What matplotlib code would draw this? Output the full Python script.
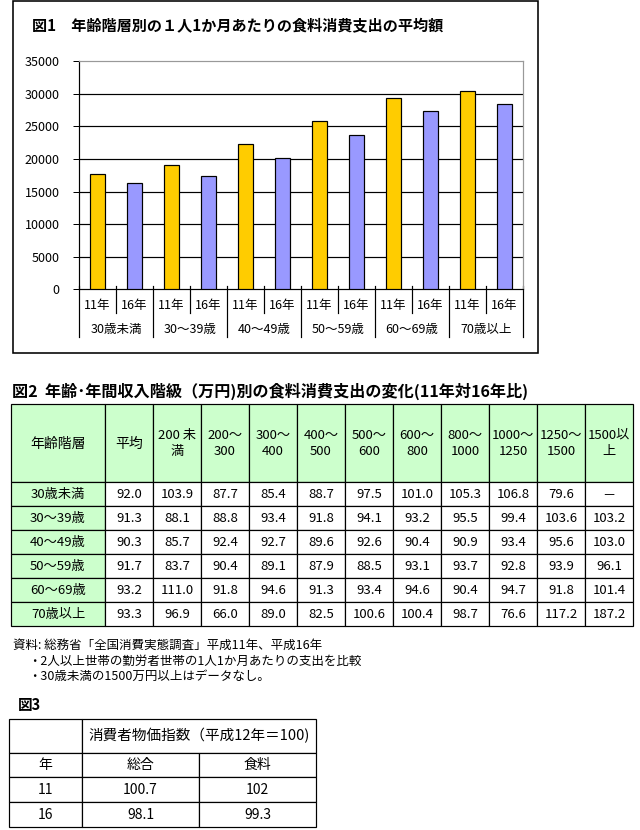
import matplotlib
matplotlib.use("Agg")
import matplotlib.pyplot as plt
from matplotlib.patches import Rectangle
import numpy as np

plt.rcParams['font.family'] = ['Noto Sans CJK JP', 'DejaVu Sans']

# ---------------- data ----------------
ages = ['30歳未満', '30～39歳', '40～49歳', '50～59歳', '60～69歳', '70歳以上']
years = ['11年', '16年']
spend_11 = [17700, 19100, 22300, 25800, 29300, 30400]
spend_16 = [16300, 17400, 20100, 23600, 27300, 28400]
y_ticks = [0, 5000, 10000, 15000, 20000, 25000, 30000, 35000]

title1 = '図1　年齢階層別の１人1か月あたりの食料消費支出の平均額'
title2 = '図2  年齢･年間収入階級（万円)別の食料消費支出の変化(11年対16年比)'

t2_header = ['年齢階層', '平均', '200 未\n満', '200～\n300', '300～\n400', '400～\n500',
             '500～\n600', '600～\n800', '800～\n1000', '1000～\n1250', '1250～\n1500', '1500以\n上']
t2_ages = ['30歳未満', '30～39歳', '40～49歳', '50～59歳', '60～69歳', '70歳以上']
t2_avg = [92.0, 91.3, 90.3, 91.7, 93.2, 93.3]
t2_ratio = [
    [103.9, 87.7, 85.4, 88.7, 97.5, 101.0, 105.3, 106.8, 79.6, None],
    [88.1, 88.8, 93.4, 91.8, 94.1, 93.2, 95.5, 99.4, 103.6, 103.2],
    [85.7, 92.4, 92.7, 89.6, 92.6, 90.4, 90.9, 93.4, 95.6, 103.0],
    [83.7, 90.4, 89.1, 87.9, 88.5, 93.1, 93.7, 92.8, 93.9, 96.1],
    [111.0, 91.8, 94.6, 91.3, 93.4, 94.6, 90.4, 94.7, 91.8, 101.4],
    [96.9, 66.0, 89.0, 82.5, 100.6, 100.4, 98.7, 76.6, 117.2, 187.2],
]

notes = ['資料: 総務省「全国消費実態調査」平成11年、平成16年',
         '・2人以上世帯の勤労者世帯の1人1か月あたりの支出を比較',
         '・30歳未満の1500万円以上はデータなし。']

title3 = '図3'
t3_top = '消費者物価指数（平成12年＝100)'
t3_cols = ['年', '総合', '食料']
cpi_years = ['11', '16']
cpi_total = ['100.7', '98.1']
cpi_food = ['102', '99.3']

# ---------------- figure ----------------
W, H = 640, 830
fig = plt.figure(figsize=(W / 100, H / 100), dpi=100)
lay = fig.add_axes([0, 0, 1, 1])
lay.set_xlim(0, W)
lay.set_ylim(H, 0)
lay.axis('off')

px = 0.72  # 1 pixel in points
FS = 9
TFS = 9.5

# chart frame
lay.add_patch(Rectangle((12.5, 1), 525, 352, fill=False, ec='black', lw=1.6 * px))
lay.text(32, 25, title1, fontsize=10.9, fontweight='bold', ha='left', va='center')

# ---------------- bar chart ----------------
L, R, T, B = 79, 523, 61, 289.5
ax = fig.add_axes([L / W, 1 - B / H, (R - L) / W, (B - T) / H])
n = len(ages)
x11 = np.arange(n) * 2
x16 = x11 + 1
ax.bar(x11, spend_11, width=0.38, color='#FFCC00', edgecolor='black', linewidth=1.2 * px, zorder=3)
ax.bar(x16, spend_16, width=0.38, color='#9999FF', edgecolor='black', linewidth=1.2 * px, zorder=3)
ax.set_xlim(-0.5, 2 * n - 0.5)
ax.set_ylim(0, 35000)
ax.set_yticks(y_ticks)
ax.set_yticklabels([str(v) for v in y_ticks], fontsize=FS)
ax.tick_params(axis='y', length=4, width=px, pad=10, direction='out')
ax.set_xticks([])
for v in y_ticks[1:-1]:
    ax.axhline(v, color='black', lw=1.2 * px, zorder=1)
for s in ['top', 'right']:
    ax.spines[s].set_color('#999999')
    ax.spines[s].set_linewidth(1.2 * px)
for s in ['left', 'bottom']:
    ax.spines[s].set_color('black')
    ax.spines[s].set_linewidth(1.2 * px)

# two level category labels
tr = ax.get_xaxis_transform()
ph = B - T
for i in range(n):
    for j, yl in enumerate(years):
        ax.text(2 * i + j, -16.5 / ph, yl, transform=tr, ha='center', va='center', fontsize=FS)
    ax.text(2 * i + 0.5, -40.5 / ph, ages[i], transform=tr, ha='center', va='center', fontsize=FS)
for k in range(2 * n + 1):
    xk = k - 0.5
    depth = 47.5 if k % 2 == 0 else 24
    ax.plot([xk, xk], [3 / ph, -depth / ph], transform=tr, color='black', lw=1.2 * px, clip_on=False)

# ---------------- table 2 ----------------
lay.text(12, 391, title2, fontsize=11.6, fontweight='bold', ha='left', va='center')
t2_x0, t2_y0 = 11, 404
col_w = [94] + [48] * 11
edges = np.concatenate([[t2_x0], t2_x0 + np.cumsum(col_w)])
row_h = [78] + [24] * 6
yedges = np.concatenate([[t2_y0], t2_y0 + np.cumsum(row_h)])
green = '#CCFFCC'
for r in range(len(row_h)):
    for c in range(len(col_w)):
        x0, x1 = edges[c], edges[c + 1]
        y0, y1 = yedges[r], yedges[r + 1]
        fc = green if (r == 0 or c == 0) else 'white'
        lay.add_patch(Rectangle((x0, y0), x1 - x0, y1 - y0, fc=fc, ec='black', lw=1.2 * px))
        if r == 0:
            txt = t2_header[c]
        elif c == 0:
            txt = t2_ages[r - 1]
        elif c == 1:
            txt = f'{t2_avg[r - 1]:.1f}'
        else:
            v = t2_ratio[r - 1][c - 2]
            txt = '－' if v is None else f'{v:.1f}'
        fs = TFS + 0.5 if (r == 0 and c < 2) else TFS
        lay.text((x0 + x1) / 2, (y0 + y1) / 2 + 0.5, txt, fontsize=fs, ha='center', va='center',
                 linespacing=1.3)

# ---------------- notes ----------------
lay.text(13, 645, notes[0], fontsize=FS, ha='left', va='center')
lay.text(28, 661, notes[1], fontsize=FS, ha='left', va='center')
lay.text(28, 676, notes[2], fontsize=FS, ha='left', va='center')

# ---------------- table 3 ----------------
lay.text(18, 705, title3, fontsize=10.5, fontweight='bold', ha='left', va='center')
t3_x = np.concatenate([[9], 9 + np.cumsum([73, 117, 117])])
t3_y = np.concatenate([[719], 719 + np.cumsum([34, 24, 25, 25])])
# header row 1
lay.add_patch(Rectangle((t3_x[0], t3_y[0]), t3_x[1] - t3_x[0], t3_y[1] - t3_y[0], fc='white', ec='black', lw=1.2 * px))
lay.add_patch(Rectangle((t3_x[1], t3_y[0]), t3_x[3] - t3_x[1], t3_y[1] - t3_y[0], fc='white', ec='black', lw=1.2 * px))
lay.text((t3_x[1] + t3_x[3]) / 2, (t3_y[0] + t3_y[1]) / 2, t3_top, fontsize=10.5, ha='center', va='center')
rows3 = [t3_cols] + [[cpi_years[i], cpi_total[i], cpi_food[i]] for i in range(len(cpi_years))]
for r, row in enumerate(rows3):
    for c, txt in enumerate(row):
        x0, x1 = t3_x[c], t3_x[c + 1]
        y0, y1 = t3_y[r + 1], t3_y[r + 2]
        lay.add_patch(Rectangle((x0, y0), x1 - x0, y1 - y0, fc='white', ec='black', lw=1.2 * px))
        lay.text((x0 + x1) / 2, (y0 + y1) / 2, txt, fontsize=10, ha='center', va='center')

fig.savefig('out.png', dpi=100)
